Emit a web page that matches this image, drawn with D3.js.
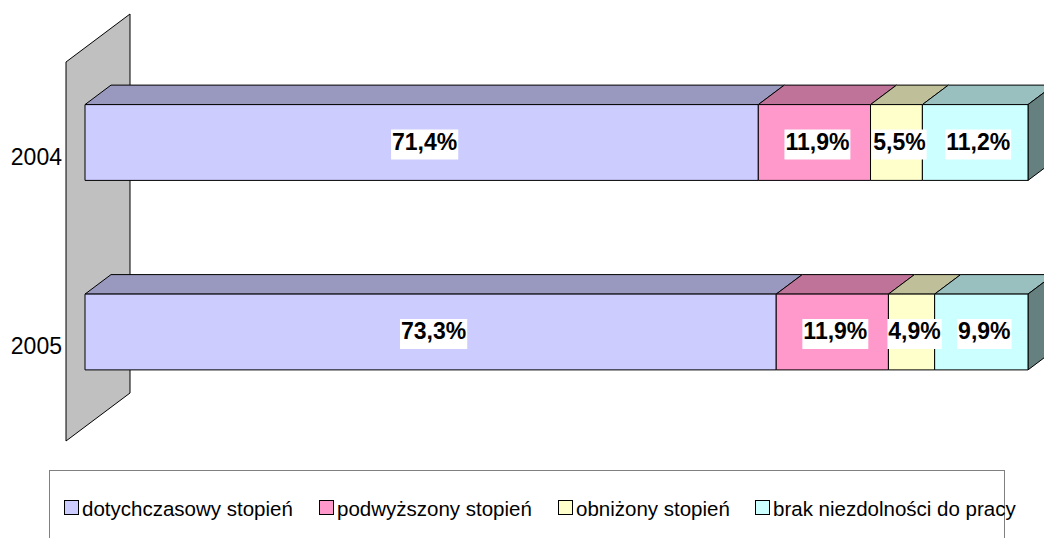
<!DOCTYPE html>
<html>
<head>
<meta charset="utf-8">
<script src="https://cdnjs.cloudflare.com/ajax/libs/d3/7.8.5/d3.min.js"></script>
<style>
  body { margin: 0; background: #fff; }
  svg { display: block; font-family: Arial, "Liberation Sans", sans-serif; }
</style>
</head>
<body>
<div id="vis"></div>
<script>
var width = 1044;
var height = 538;

// data
var years = ['2004', '2005'];
var seriesNames = ['dotychczasowy stopień', 'podwyższony stopień', 'obniżony stopień', 'brak niezdolności do pracy'];
var values2004 = [71.4, 11.9, 5.5, 11.2];
var values2005 = [73.3, 11.9, 4.9, 9.9];
var valueLabels2004 = ['71,4%', '11,9%', '5,5%', '11,2%'];
var valueLabels2005 = ['73,3%', '11,9%', '4,9%', '9,9%'];

var frontColors = ['#ccccff', '#ff99cc', '#ffffcc', '#ccffff'];
var topColors = ['#9999bf', '#bf7399', '#bfbf99', '#99bfbf'];
var sideColors = ['#666680', '#80667a', '#80806a', '#668080'];

// 3d geometry: front plane at x0, depth goes up-right
var x0 = 66;
var wallDepth = 64;
var slope = 0.75;
var barFront = 19;
var barDepth = 26;

var x = d3.scaleLinear().domain([0, 100]).range([x0, x0 + 943]);
var y = d3.scaleBand().domain(years).range([62, 441])
    .paddingInner(0.6).paddingOuter(0.3);

function pt(v, yy, z) {
    return [x(v) + z, yy - z * slope];
}
function poly(points) {
    return 'M' + points.map(function (p) { return p[0] + ',' + p[1]; }).join('L') + 'Z';
}

var svg = d3.select('#vis')
    .append('svg')
    .attr('width', width)
    .attr('height', height);

// side wall
svg.append('path')
    .attr('d', poly([[x0, y.range()[0]], [x0 + wallDepth, y.range()[0] - wallDepth * slope],
        [x0 + wallDepth, y.range()[1] - wallDepth * slope], [x0, y.range()[1]]]))
    .attr('fill', '#c0c0c0')
    .attr('stroke', '#000')
    .attr('stroke-width', 1);

// category labels
svg.append('g').selectAll('text')
    .data(years)
    .enter().append('text')
    .attr('x', x0 - 4)
    .attr('y', function (d) { return y(d) + y.bandwidth() / 2; })
    .attr('text-anchor', 'end')
    .attr('dominant-baseline', 'central')
    .attr('font-size', 23)
    .text(function (d) { return d; });

var rows = [
    { year: '2004', values: values2004, labels: valueLabels2004 },
    { year: '2005', values: values2005, labels: valueLabels2005 }
];

rows.forEach(function (row) {
    var stack = [];
    var acc = 0;
    row.values.forEach(function (v, i) {
        stack.push({ i: i, start: acc, end: acc + v, label: row.labels[i] });
        acc += v;
    });
    var yTop = y(row.year);
    var yBot = yTop + y.bandwidth();
    var z1 = barFront, z2 = barFront + barDepth;
    var g = svg.append('g');

    // top faces
    g.selectAll('path.top')
        .data(stack)
        .enter().append('path')
        .attr('class', 'top')
        .attr('d', function (d) {
            return poly([pt(d.start, yTop, z1), pt(d.end, yTop, z1), pt(d.end, yTop, z2), pt(d.start, yTop, z2)]);
        })
        .attr('fill', function (d) { return topColors[d.i]; })
        .attr('stroke', '#000')
        .attr('stroke-width', 1);

    // right side face of last segment
    var last = stack[stack.length - 1];
    g.append('path')
        .attr('d', poly([pt(last.end, yTop, z1), pt(last.end, yTop, z2), pt(last.end, yBot, z2), pt(last.end, yBot, z1)]))
        .attr('fill', sideColors[last.i])
        .attr('stroke', '#000')
        .attr('stroke-width', 1);

    // front faces
    g.selectAll('path.front')
        .data(stack)
        .enter().append('path')
        .attr('class', 'front')
        .attr('d', function (d) {
            return poly([pt(d.start, yTop, z1), pt(d.end, yTop, z1), pt(d.end, yBot, z1), pt(d.start, yBot, z1)]);
        })
        .attr('fill', function (d) { return frontColors[d.i]; })
        .attr('stroke', '#000')
        .attr('stroke-width', 1);

    // value labels with white box
    var lab = g.selectAll('g.lab')
        .data(stack)
        .enter().append('g')
        .attr('class', 'lab')
        .attr('transform', function (d) {
            var cx = (x(d.start) + x(d.end)) / 2 + z1 + 3;
            var cy = (yTop + yBot) / 2 - z1 * slope - 1;
            return 'translate(' + cx + ',' + cy + ')';
        });
    lab.append('text')
        .attr('text-anchor', 'middle')
        .attr('dominant-baseline', 'central')
        .attr('font-size', 23)
        .attr('font-weight', 'bold')
        .text(function (d) { return d.label; });
    lab.each(function () {
        var t = d3.select(this).select('text');
        var b = t.node().getBBox();
        d3.select(this).insert('rect', 'text')
            .attr('x', b.x - 1)
            .attr('y', b.y + 1)
            .attr('width', b.width + 2)
            .attr('height', b.height + 4)
            .attr('fill', '#fff');
    });
});

// legend
svg.append('rect')
    .attr('x', 49.5)
    .attr('y', 470.5)
    .attr('width', 955)
    .attr('height', 100)
    .attr('fill', '#fff')
    .attr('stroke', '#808080')
    .attr('stroke-width', 1);

var legendX = [64, 319, 558, 755];
var legend = svg.append('g').selectAll('g')
    .data(seriesNames)
    .enter().append('g')
    .attr('transform', function (d, i) { return 'translate(' + legendX[i] + ',500)'; });
legend.append('rect')
    .attr('x', 0.5)
    .attr('y', 0.5)
    .attr('width', 14)
    .attr('height', 14)
    .attr('fill', function (d, i) { return frontColors[i]; })
    .attr('stroke', '#000')
    .attr('stroke-width', 1);
legend.append('text')
    .attr('x', 18)
    .attr('y', 8)
    .attr('dominant-baseline', 'central')
    .attr('font-size', 20.5)
    .text(function (d) { return d; });
</script>
</body>
</html>
